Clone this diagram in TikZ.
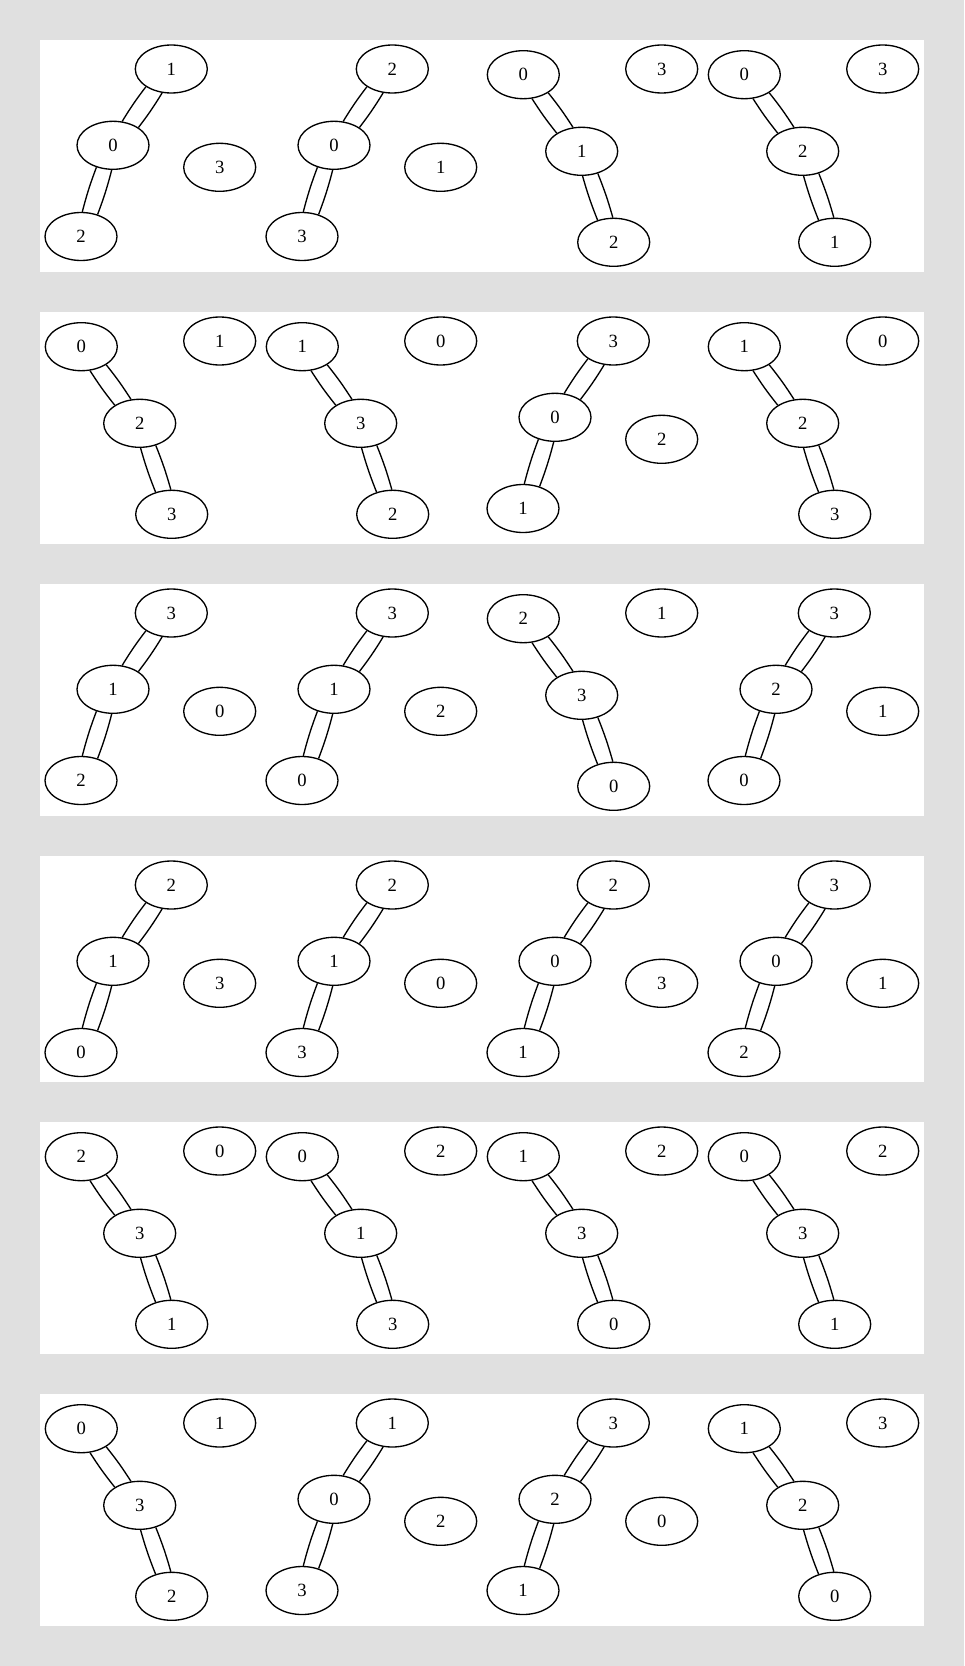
\documentclass[tikz,border=0pt]{standalone}
\usepackage{fontspec}
\setmainfont{Liberation Serif}
\usetikzlibrary{shapes.geometric}
\definecolor{bggray}{RGB}{224,224,224}
\tikzset{
  gnode/.style={draw, ellipse, line width=1pt, minimum width=54pt, minimum height=36pt, inner sep=0pt, font=\fontsize{14}{16}\selectfont},
  gedge/.style={line width=1pt},
  panelbox/.style={fill=white, draw=none}
}
% double edge: #1 from node, #2 to node, anchors #3 #4 (first line), #5 #6 (second line)
\newcommand\dedge[6]{%
  \draw[gedge] (#1.#3) to[bend left=3] (#2.#4);
  \draw[gedge] (#1.#5) to[bend right=3] (#2.#6);
}
% type A: top-right, middle, bottom-left, isolated right-middle
\newcommand\sgA[7]{%
  \pgfmathsetmacro\xo{40+221*#3}%
  \node[gnode] (p#1s#3t) at (\xo+131.3, #2+29) {#4};
  \node[gnode] (p#1s#3m) at (\xo+73, #2+105.3) {#5};
  \node[gnode] (p#1s#3b) at (\xo+41, #2+196.5) {#6};
  \node[gnode] (p#1s#3i) at (\xo+179.7, #2+127.3) {#7};
  \dedge{p#1s#3m}{p#1s#3t}{69.6}{215.6}{35.6}{249.6}
  \dedge{p#1s#3m}{p#1s#3b}{267.7}{53.7}{233.7}{87.7}
}
% type B: top-left, middle, bottom-right, isolated top-right
\newcommand\sgB[7]{%
  \pgfmathsetmacro\xo{40+221*#3}%
  \node[gnode] (p#1s#3t) at (\xo+41.3, #2+34.7) {#4};
  \node[gnode] (p#1s#3m) at (\xo+99.7, #2+111.3) {#5};
  \node[gnode] (p#1s#3b) at (\xo+131.7, #2+202.3) {#6};
  \node[gnode] (p#1s#3i) at (\xo+179.7, #2+29) {#7};
  \dedge{p#1s#3m}{p#1s#3t}{144.3}{290.3}{110.3}{324.3}
  \dedge{p#1s#3m}{p#1s#3b}{306.4}{92.4}{272.4}{126.4}
}
\begin{document}
\begin{tikzpicture}[x=0.75pt, y=-0.75pt]
  \fill[bggray] (0,0) rectangle (964,1666);
  \useasboundingbox (0,0) rectangle (964,1666);
  % panels
  \fill[panelbox] (40,40) rectangle (924,272);
  \fill[panelbox] (40,312) rectangle (924,544);
  \fill[panelbox] (40,584) rectangle (924,816);
  \fill[panelbox] (40,856) rectangle (924,1082);
  \fill[panelbox] (40,1122) rectangle (924,1354);
  \fill[panelbox] (40,1394) rectangle (924,1626);
  % panel 1
  \sgA{1}{40}{0}{1}{0}{2}{3}
  \sgA{1}{40}{1}{2}{0}{3}{1}
  \sgB{1}{40}{2}{0}{1}{2}{3}
  \sgB{1}{40}{3}{0}{2}{1}{3}
  % panel 2
  \sgB{2}{312}{0}{0}{2}{3}{1}
  \sgB{2}{312}{1}{1}{3}{2}{0}
  \sgA{2}{312}{2}{3}{0}{1}{2}
  \sgB{2}{312}{3}{1}{2}{3}{0}
  % panel 3
  \sgA{3}{584}{0}{3}{1}{2}{0}
  \sgA{3}{584}{1}{3}{1}{0}{2}
  \sgB{3}{584}{2}{2}{3}{0}{1}
  \sgA{3}{584}{3}{3}{2}{0}{1}
  % panel 4
  \sgA{4}{856}{0}{2}{1}{0}{3}
  \sgA{4}{856}{1}{2}{1}{3}{0}
  \sgA{4}{856}{2}{2}{0}{1}{3}
  \sgA{4}{856}{3}{3}{0}{2}{1}
  % panel 5
  \sgB{5}{1122}{0}{2}{3}{1}{0}
  \sgB{5}{1122}{1}{0}{1}{3}{2}
  \sgB{5}{1122}{2}{1}{3}{0}{2}
  \sgB{5}{1122}{3}{0}{3}{1}{2}
  % panel 6
  \sgB{6}{1394}{0}{0}{3}{2}{1}
  \sgA{6}{1394}{1}{1}{0}{3}{2}
  \sgA{6}{1394}{2}{3}{2}{1}{0}
  \sgB{6}{1394}{3}{1}{2}{0}{3}
\end{tikzpicture}
\end{document}
